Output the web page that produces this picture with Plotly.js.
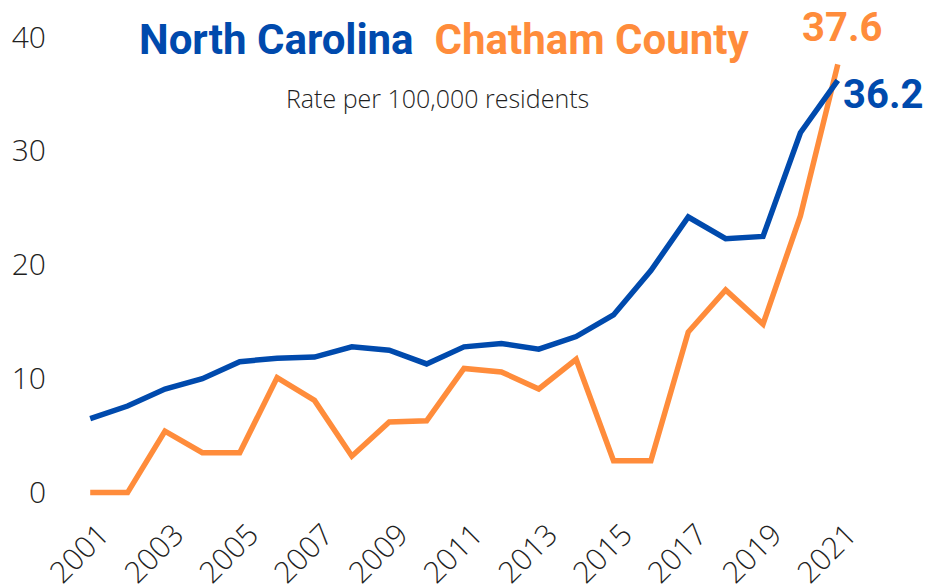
<!DOCTYPE html>
<html>
<head>
<meta charset="utf-8">
<script src="https://cdn.plot.ly/plotly-3.0.1.min.js"></script>
<style>html,body{margin:0;padding:0;background:#fff;}#chart{width:928px;height:586px;}</style>
</head>
<body>
<div id="chart"></div>
<script>
const years = [2001,2002,2003,2004,2005,2006,2007,2008,2009,2010,2011,2012,2013,2014,2015,2016,2017,2018,2019,2020,2021];
const northCarolina = [6.5,7.6,9.1,10.0,11.5,11.8,11.9,12.8,12.5,11.3,12.8,13.1,12.6,13.7,15.6,19.5,24.2,22.3,22.5,31.6,36.2];
const chathamCounty = [0,0,5.4,3.5,3.5,10.1,8.1,3.2,6.2,6.3,10.9,10.6,9.1,11.7,2.8,2.8,14.1,17.8,14.8,24.3,37.6];
const xTicks = [2001,2003,2005,2007,2009,2011,2013,2015,2017,2019,2021];
const yTicks = [0,10,20,30,40];

const blue = '#004AAD';
const orange = '#FF8C3B';
const last = years.length - 1;

const traces = [
  {x: years, y: chathamCounty, type: 'scatter', mode: 'lines', name: 'Chatham County',
   line: {color: orange, width: 5.5}},
  {x: years, y: northCarolina, type: 'scatter', mode: 'lines', name: 'North Carolina',
   line: {color: blue, width: 5.5}}
];

const tickFont = {family: '"Open Sans", sans-serif', size: 30, color: '#1f1f1f', weight: 300};

const layout = {
  width: 928, height: 586,
  margin: {l: 79, r: 79, t: 20, b: 82},
  paper_bgcolor: '#ffffff', plot_bgcolor: '#ffffff',
  showlegend: false,
  xaxis: {range: [2000.7, 2021.3], tickvals: xTicks, ticktext: xTicks.map(String), tickangle: -45,
          showgrid: false, zeroline: false, showline: false, ticks: '', ticklabelstandoff: 6, ticklabelshift: 10, tickfont: tickFont},
  yaxis: {range: [-1, 41.5], tickvals: yTicks, ticktext: yTicks.map(String),
          showgrid: false, zeroline: false, showline: false, ticks: '', ticklabelstandoff: 32, tickfont: tickFont},
  annotations: [
    {xref: 'paper', yref: 'paper', x: (444 - 79) / 770, y: (504 - 40) / 484, xanchor: 'center', yanchor: 'middle', showarrow: false,
     text: '<b><span style="color:' + blue + '">North Carolina</span>  <span style="color:' + orange + '">Chatham County</span></b>',
     font: {family: 'Roboto, sans-serif', size: 42}},
    {xref: 'paper', yref: 'paper', x: (437 - 79) / 770, y: (504 - 98) / 484, xanchor: 'center', yanchor: 'middle', showarrow: false,
     text: 'Rate per 100,000 residents', font: {family: '"Open Sans", sans-serif', size: 25, color: '#1f1f1f', weight: 300}},
    {x: years[last], y: chathamCounty[last], xanchor: 'center', yanchor: 'middle', showarrow: false,
     xshift: 4, yshift: 37, text: '<b>' + chathamCounty[last].toFixed(1) + '</b>',
     font: {family: 'Roboto, sans-serif', size: 40, color: orange}},
    {x: years[last], y: northCarolina[last], xanchor: 'left', yanchor: 'middle', showarrow: false,
     xshift: 3, yshift: -14, text: '<b>' + northCarolina[last].toFixed(1) + '</b>',
     font: {family: 'Roboto, sans-serif', size: 40, color: blue}}
  ]
};

Plotly.newPlot('chart', traces, layout, {displayModeBar: false, staticPlot: true});
</script>
</body>
</html>
